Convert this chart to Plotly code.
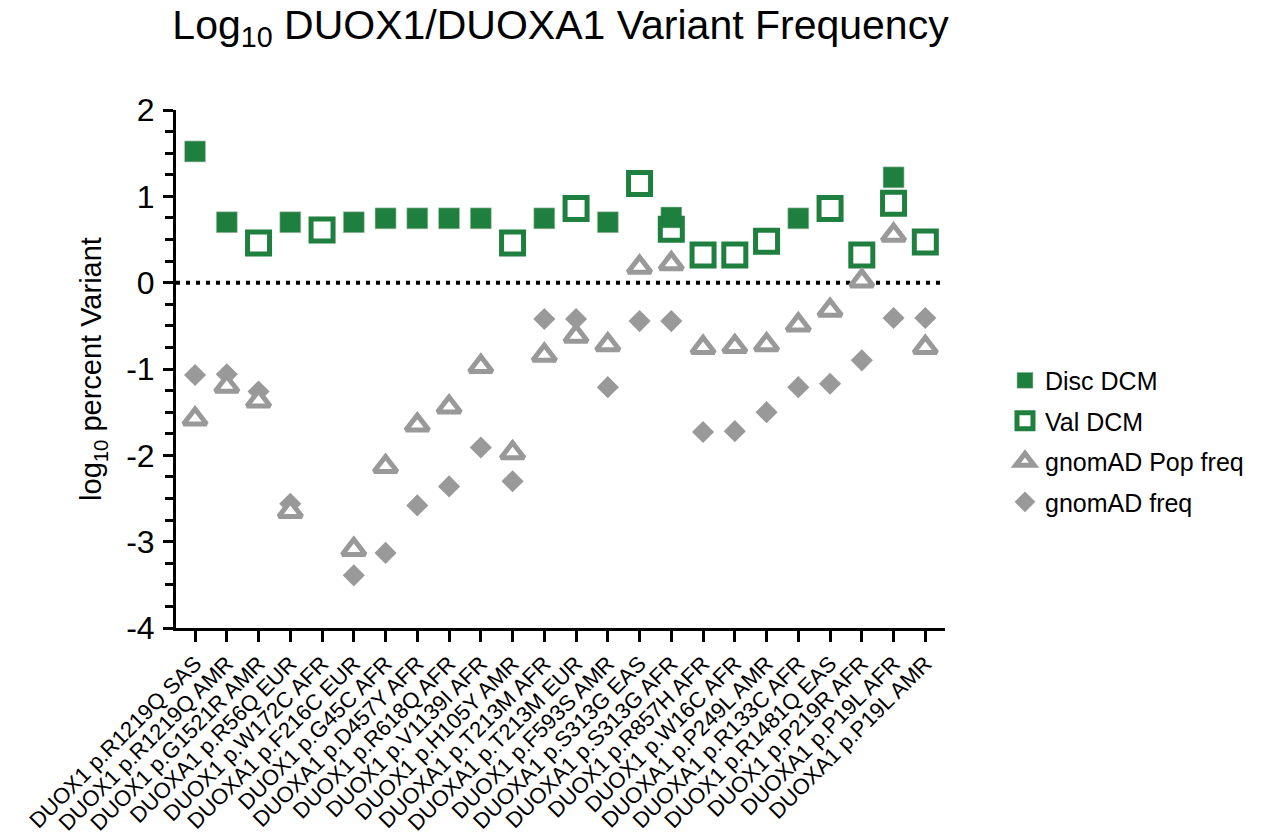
import plotly.graph_objects as go

categories = [
    "DUOX1 p.R1219Q SAS", "DUOX1 p.R1219Q AMR", "DUOX1 p.G1521R AMR", "DUOXA1 p.R56Q EUR",
    "DUOX1 p.W172C AFR", "DUOXA1 p.F216C EUR", "DUOX1 p.G45C AFR", "DUOXA1 p.D457Y AFR",
    "DUOX1 p.R618Q AFR", "DUOX1 p.V1139I AFR", "DUOX1 p.H105Y AMR", "DUOXA1 p.T213M AFR",
    "DUOXA1 p.T213M EUR", "DUOX1 p.F593S AMR", "DUOXA1 p.S313G EAS", "DUOXA1 p.S313G AFR",
    "DUOX1 p.R857H AFR", "DUOX1 p.W16C AFR", "DUOXA1 p.P249L AMR", "DUOXA1 p.R133C AFR",
    "DUOX1 p.R1481Q EAS", "DUOX1 p.P219R AFR", "DUOXA1 p.P19L AFR", "DUOXA1 p.P19L AMR",
]

N = None
disc_dcm = [1.52, 0.70, N, 0.70, N, 0.70, 0.745, 0.745, 0.745, 0.745, N, 0.745,
            N, 0.70, N, 0.755, N, N, N, 0.745, N, N, 1.22, N]
val_dcm = [N, N, 0.46, N, 0.61, N, N, N, N, N, 0.46, N,
           0.86, N, 1.15, 0.62, 0.32, 0.32, 0.48, N, 0.86, 0.32, 0.92, 0.47]
gnomad_pop = [-1.58, -1.20, -1.37, -2.65, N, -3.09, -2.13, -1.65, -1.44, -0.97, -1.97, -0.84,
              -0.62, -0.72, 0.18, 0.22, -0.75, -0.74, -0.72, -0.49, -0.32, 0.02, 0.55, -0.75]
gnomad_freq = [-1.07, -1.06, -1.26, -2.56, N, -3.39, -3.13, -2.58, -2.36, -1.91, -2.30, -0.42,
               -0.42, -1.21, -0.445, -0.445, -1.73, -1.72, -1.50, -1.21, -1.17, -0.90, -0.41, -0.41]

GREEN = "#1e7f3e"
GRAY = "#999999"

fig = go.Figure()
fig.add_trace(go.Scatter(
    x=categories, y=disc_dcm, mode="markers", name="Disc DCM", legendrank=1,
    marker=dict(symbol="square", size=21, color=GREEN, line=dict(width=0.6, color="#b8c8bc")),
))
fig.add_trace(go.Scatter(
    x=categories, y=val_dcm, mode="markers", name="Val DCM", legendrank=2,
    marker=dict(symbol="square-open", size=22, color=GREEN, line=dict(width=5, color=GREEN)),
))
fig.add_trace(go.Scatter(
    x=categories, y=gnomad_freq, mode="markers", name="gnomAD freq", legendrank=4,
    marker=dict(symbol="diamond", size=17, color=GRAY, line=dict(width=0)),
))
fig.add_trace(go.Scatter(
    x=categories, y=gnomad_pop, mode="markers", name="gnomAD Pop freq", legendrank=3,
    marker=dict(symbol="triangle-up", size=20, color="white", line=dict(width=5, color=GRAY)),
))

fig.add_shape(type="line", xref="paper", x0=0, x1=1, yref="y", y0=0, y1=0,
              line=dict(color="black", width=4, dash="4px,6px"), layer="below")

fig.update_layout(
    width=1267, height=835,
    paper_bgcolor="white", plot_bgcolor="white",
    margin=dict(l=176, r=322, t=110, b=207),
    font=dict(family="Liberation Sans, Arial, sans-serif", color="black"),
    title=dict(text="Log<sub>10</sub> DUOX1/DUOXA1 Variant Frequency",
               x=0.5, xref="paper", y=0.988, yref="container", yanchor="top",
               font=dict(size=41, color="black")),
    showlegend=True,
    legend=dict(x=1.078, xanchor="left", y=0.522, yanchor="top",
                font=dict(size=25), tracegroupgap=5, traceorder="grouped",
                itemsizing="trace", bgcolor="rgba(0,0,0,0)"),
    xaxis=dict(
        type="category", categoryorder="array", categoryarray=categories,
        range=[-0.6, 23.62], showgrid=False, zeroline=False,
        showline=True, linecolor="black", linewidth=3,
        ticks="outside", ticklen=11, tickwidth=3, tickcolor="black",
        tickangle=-45, tickfont=dict(size=22), automargin=False,
    ),
    yaxis=dict(
        range=[-4, 2], showgrid=False, zeroline=False,
        showline=True, linecolor="black", linewidth=3,
        ticks="outside", ticklen=10, tickwidth=3, tickcolor="black",
        tickvals=[-4, -3, -2, -1, 0, 1, 2], ticktext=["-4", "-3", "-2", "-1", "0", "1", "2"],
        tickfont=dict(size=32), ticklabelstandoff=2,
        minor=dict(dtick=0.25, tick0=0, ticks="outside", ticklen=8, tickwidth=3, tickcolor="black"),
        title=dict(text="log<sub>10</sub> percent Variant", font=dict(size=29), standoff=16),
        automargin=False,
    ),
)
for i, tr in enumerate(fig.data):
    tr.legendgroup = str(i)

fig.write_html("out.html")
